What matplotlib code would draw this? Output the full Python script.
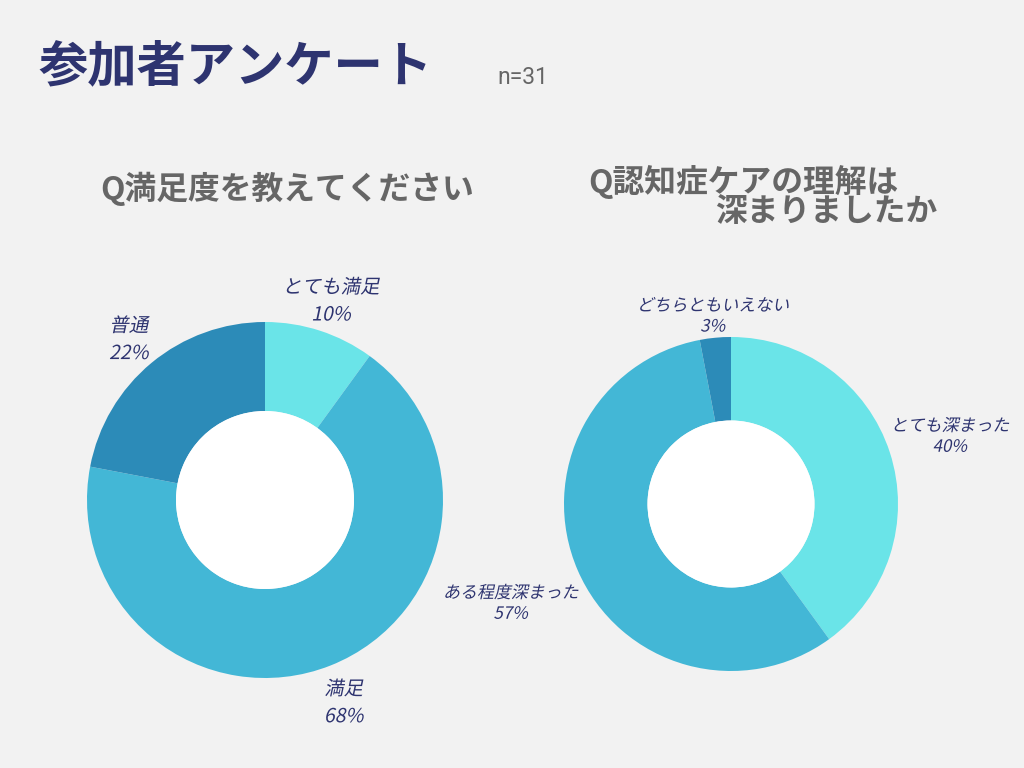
import numpy as np
from matplotlib import pyplot as plt
from matplotlib.patches import Circle
from matplotlib.patheffects import AbstractPathEffect
from matplotlib.transforms import Affine2D

plt.rcParams['font.family'] = ['Noto Sans CJK JP', 'DejaVu Sans']

# data
sat_labels = ["とても満足", "満足", "普通"]
sat_values = [10, 68, 22]
und_labels = ["とても深まった", "ある程度深まった", "どちらともいえない"]
und_values = [40, 57, 3]

colors = ["#6AE4E8", "#43B7D6", "#2C8BB8"]
navy = "#2E3470"
gray = "#666666"
bg = "#F2F2F2"


class Slant(AbstractPathEffect):
    # fake italic: skew the glyph paths around their baseline
    def draw_path(self, renderer, gc, tpath, affine, rgbFace=None):
        renderer.draw_path(gc, tpath, Affine2D().skew_deg(12, 0) + affine, rgbFace)


W, H = 1024, 768
fig = plt.figure(figsize=(W / 100, H / 100), dpi=100, facecolor=bg)


def donut(cx, cy, r, values, labels, size, spacing, label_pos=None):
    ax = fig.add_axes([(cx - r) / W, (H - cy - r) / H, 2 * r / W, 2 * r / H])
    ax.set_facecolor(bg)
    texts = ax.pie(values, colors=colors, startangle=90, counterclock=False,
                   labels=[f"{l}\n{v}%" for l, v in zip(labels, values)],
                   labeldistance=1.2, radius=1,
                   wedgeprops=dict(width=0.5, linewidth=0),
                   textprops=dict(ha="center", va="center", color=navy,
                                  fontsize=size, linespacing=spacing))[1]
    ax.add_patch(Circle((0, 0), 0.5, facecolor="white", edgecolor="none"))
    for t in texts:
        t.set_path_effects([Slant()])
    if label_pos is not None:
        for t, p in zip(texts, label_pos):
            t.set_position(p)
    # nudge labels down a little (font metrics)
    for t in texts:
        x, y = t.get_position()
        t.set_position((x, y - 0.025))
    ax.set_xlim(-1, 1)
    ax.set_ylim(-1, 1)
    ax.axis("off")
    return ax


donut(265, 500, 178, sat_values, sat_labels, 14, 1.4)
donut(731, 504, 167, und_values, und_labels, 12.2, 1.2,
      label_pos=[(1.31, 0.43), (-1.32, -0.57), (-0.11, 1.15)])

# titles
fig.text(38 / W, 1 - 67 / H, "参加者アンケート", fontsize=35.5, fontweight="bold",
         color=navy, ha="left", va="center")
fig.text(497 / W, 1 - 78 / H, "n=31", fontsize=16.5, color=gray, ha="left", va="center",
         family=["Roboto", "DejaVu Sans"])
fig.text(287 / W, 1 - 189 / H, "Q満足度を教えてください", fontsize=22.9, fontweight="bold",
         color=gray, ha="center", va="center")
fig.text(588 / W, 1 - 182 / H, "Q認知症ケアの理解は", fontsize=22.9, fontweight="bold",
         color=gray, ha="left", va="center")
fig.text(715 / W, 1 - 212 / H, "深まりましたか", fontsize=22.9, fontweight="bold",
         color=gray, ha="left", va="center")

plt.savefig("out.png", dpi=100, facecolor=bg)
